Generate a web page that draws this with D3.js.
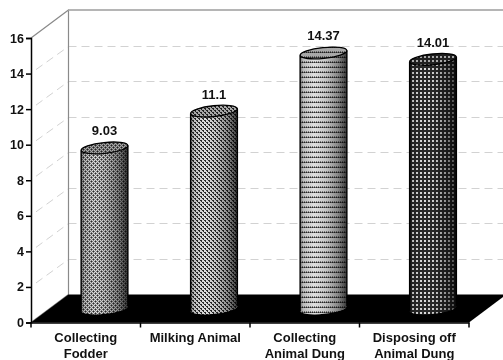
<!DOCTYPE html>
<html>
<head>
<meta charset="utf-8">
<script src="https://cdn.jsdelivr.net/npm/d3@7"></script>
<style>
  html, body { margin: 0; padding: 0; background: #fff; }
  svg { display: block; }
  text { font-family: "Liberation Sans", Arial, sans-serif; font-weight: bold; fill: #111; }
</style>
</head>
<body>
<svg id="chart" width="503" height="360"></svg>
<script>
// Chart data
const categories = ["Collecting Fodder", "Milking Animal", "Collecting Animal Dung", "Disposing off Animal Dung"];
const categoryLines = [["Collecting", "Fodder"], ["Milking Animal"], ["Collecting", "Animal Dung"], ["Disposing off", "Animal Dung"]];
const values = [9.03, 11.1, 14.37, 14.01];
const yTicks = [0, 2, 4, 6, 8, 10, 12, 14, 16];

// Monochrome fill tiles, one per bar: w = white, g = grey, k = near black
const tiles = [
  ["wgwg", "gwgk", "wgwg", "gkgw"],
  ["kkww", "wkww", "wwkk", "wwwk"],
  ["wwww", "gwgw", "kgkg", "wwww", "wwww"],
  ["wwkk", "wwkk", "kkkk", "kkkk"]
];
const tileColors = { w: "#ffffff", g: "#909090", k: "#303030" };

const svg = d3.select("#chart");
const width = 503, height = 360;

// Oblique frame: front plane plus a shift towards the back wall
const front = { left: 31, right: 469, top: 38, bottom: 322.5 };
const depth = { x: 37.5, y: -28 };

const x = d3.scaleBand().domain(categories).range([front.left, front.right]);
const y = d3.scaleLinear().domain([0, 16]).range([front.bottom, front.top]);

svg.append("rect").attr("width", width).attr("height", height).attr("fill", "#fff");

const defs = svg.append("defs");
tiles.forEach((rows, i) => {
  const p = defs.append("pattern")
    .attr("id", "tile" + i)
    .attr("patternUnits", "userSpaceOnUse")
    .attr("width", rows[0].length)
    .attr("height", rows.length);
  rows.forEach((row, r) => {
    row.split("").forEach((c, col) => {
      p.append("rect").attr("x", col).attr("y", r)
        .attr("width", 1).attr("height", 1)
        .attr("shape-rendering", "crispEdges")
        .attr("fill", tileColors[c]);
    });
  });
});

// Side shading that turns the flat fill into a cylinder
const shade = defs.append("linearGradient").attr("id", "shade");
[[0, "#777"], [0.07, "#bbb"], [0.3, "#e0e0e0"], [0.55, "#c4c4c4"], [0.8, "#8a8a8a"], [0.93, "#555"], [1, "#333"]]
  .forEach(([o, c]) => shade.append("stop").attr("offset", o).attr("stop-color", c));

// Back wall gridlines and their continuation across the side wall
const grid = svg.append("g").attr("stroke", "#d2d2d2").attr("stroke-width", 1).attr("stroke-dasharray", "8 5").attr("fill", "none");
yTicks.filter(t => t > 0 && t < 16).forEach(t => {
  const wallY = Math.round(y(t) + depth.y) + 0.5;
  grid.append("line")
    .attr("x1", front.left + depth.x).attr("x2", width)
    .attr("y1", wallY).attr("y2", wallY);
  grid.append("line")
    .attr("x1", front.left + 5).attr("y1", y(t) - 4)
    .attr("x2", front.left + depth.x).attr("y2", wallY);
});

// Wall outlines
const wall = svg.append("g").attr("stroke", "#8a8a8a").attr("fill", "none");
wall.append("path").attr("stroke-width", 1.2)
  .attr("d", `M${front.left},${y(16)}L${front.left + depth.x},${y(16) + depth.y}V${y(0) + depth.y}L${front.left},${y(0)}`);
wall.append("line").attr("stroke", "#b5b5b5").attr("stroke-width", 2)
  .attr("x1", front.left + depth.x).attr("x2", width)
  .attr("y1", y(16) + depth.y).attr("y2", y(16) + depth.y);

// Floor
svg.append("path").attr("fill", "#000")
  .attr("d", `M${front.left},${y(0)}L${front.left + depth.x},${y(0) + depth.y}H${front.right + depth.x}L${front.right},${y(0)}Z`);

// Cylinders
const rx = 23.5, ry = 5.4, tilt = 6;
const tiltDx = rx * Math.cos(tilt * Math.PI / 180);
const tiltDy = rx * Math.sin(tilt * Math.PI / 180);
const cylinderY = v => y(v) + depth.y / 2;
const cx = c => x(c) + x.bandwidth() / 2 + depth.x / 2;

const bodyPath = (c, v) => {
  const xc = cx(c), t = cylinderY(v), b = cylinderY(0);
  return `M${xc - tiltDx},${t + tiltDy}L${xc - tiltDx},${b + tiltDy}` +
    `A${rx},${ry} ${-tilt} 0 0 ${xc + tiltDx},${b - tiltDy}L${xc + tiltDx},${t - tiltDy}` +
    `A${rx},${ry} ${-tilt} 0 1 ${xc - tiltDx},${t + tiltDy}Z`;
};
const topPath = (c, v) => {
  const xc = cx(c), t = cylinderY(v);
  return `M${xc - tiltDx},${t + tiltDy}A${rx},${ry} ${-tilt} 1 1 ${xc + tiltDx},${t - tiltDy}` +
    `A${rx},${ry} ${-tilt} 1 1 ${xc - tiltDx},${t + tiltDy}Z`;
};
const sidesPath = (c, v) => {
  const xc = cx(c), t = cylinderY(v), b = cylinderY(0);
  return `M${xc - tiltDx},${t + tiltDy}V${b + tiltDy}M${xc + tiltDx},${t - tiltDy}V${b - tiltDy}`;
};

const bars = svg.selectAll("g.bar").data(categories).join("g").attr("class", "bar");
bars.append("path").attr("d", (c, i) => bodyPath(c, values[i])).attr("fill", (c, i) => `url(#tile${i})`);
bars.append("path").attr("d", (c, i) => bodyPath(c, values[i])).attr("fill", "url(#shade)").style("mix-blend-mode", "multiply");
bars.append("path").attr("d", (c, i) => topPath(c, values[i])).attr("fill", (c, i) => `url(#tile${i})`);
bars.append("path").attr("d", (c, i) => topPath(c, values[i])).attr("fill", "#a8a8a8").style("mix-blend-mode", "multiply");
bars.append("path").attr("d", (c, i) => topPath(c, values[i])).attr("fill", "none").attr("stroke", "#000").attr("stroke-width", 1.3);
bars.append("path").attr("d", (c, i) => sidesPath(c, values[i])).attr("fill", "none").attr("stroke", "#000").attr("stroke-width", 1.4);

// Value labels above each cylinder
svg.append("g").selectAll("text").data(categories).join("text")
  .attr("x", c => cx(c))
  .attr("y", (c, i) => cylinderY(values[i]) - 12.5)
  .attr("text-anchor", "middle")
  .attr("font-size", 13)
  .text((c, i) => values[i]);

// Value axis
const yAxis = svg.append("g").attr("transform", `translate(${front.left},0)`)
  .call(d3.axisLeft(y).tickValues(yTicks).tickSize(5).tickPadding(2).tickFormat(d3.format("d")));
yAxis.selectAll("path,line").attr("stroke", "#000").attr("stroke-width", 1.5);
yAxis.selectAll("text").attr("font-size", 12.5).attr("font-family", null).attr("fill", "#111");

// Category axis: ticks sit on the band edges, labels wrap to two lines
const xAxis = svg.append("g").attr("transform", `translate(0,${front.bottom})`)
  .call(d3.axisBottom(x).tickSize(0).tickPadding(0));
xAxis.attr("font-family", null);
xAxis.select(".domain").attr("stroke", "#000").attr("stroke-width", 1.5);
xAxis.selectAll(".tick line").remove();
xAxis.selectAll(".tick text").each(function (c, i) {
  const t = d3.select(this).text(null).attr("font-size", 13).attr("fill", "#111").attr("y", 0).attr("dy", null);
  categoryLines[i].forEach((line, n) => {
    t.append("tspan").attr("x", 0).attr("y", 19.5 + n * 16).text(line);
  });
});
xAxis.selectAll("line.edge").data(categories.map(c => x(c)).concat(front.right)).join("line")
  .attr("class", "edge")
  .attr("x1", d => d).attr("x2", d => d)
  .attr("y1", 0).attr("y2", 5)
  .attr("stroke", "#000").attr("stroke-width", 1.5);
</script>
</body>
</html>
